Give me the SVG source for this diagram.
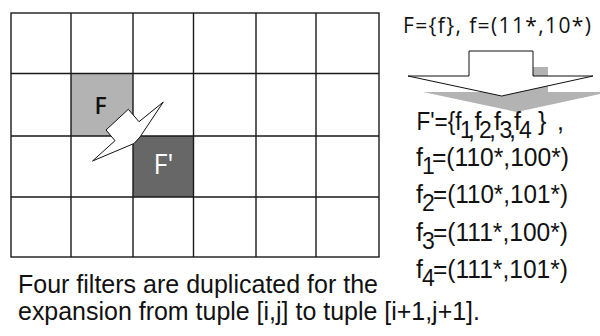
<svg xmlns="http://www.w3.org/2000/svg" width="600" height="336" viewBox="0 0 600 336">
<style>
.grid{stroke:#1a1a1a;stroke-width:1.4;fill:none}
.narrow{font-family:"Liberation Sans",Arial,sans-serif;font-size:25px;fill:#111}
.sub{font-size:23px}
.open{font-family:"Open Sans","DejaVu Sans",sans-serif;fill:#111}
</style>
<rect width="600" height="336" fill="#fff"/>
<g id="cellF"><rect x="71" y="73.5" width="62" height="62.5" fill="#b3b3b3"/></g>
<g id="cellF2"><rect x="133" y="136" width="60.5" height="61" fill="#676767"/></g>
<g id="grid" class="grid">
<rect x="11" y="13" width="368" height="244"/>
<path d="M71 13V257M133 13V257M193.5 13V257M256 13V257M316 13V257M11 73.5H379M11 136H379M11 197H379"/>
</g>
<g id="labelF"><text x="94.5" y="113.5" class="open" font-size="23" font-weight="600">F</text></g>
<g id="labelF2"><text x="153.5" y="174" class="open" font-size="27" style="fill:#fff">F'</text></g>
<g id="connectors">
<polygon points="163.3,102 139,121.7 128.3,109.3 106,130 115,140.7 92.5,161 134,143.5 140,137" fill="#fff" stroke="#111" stroke-width="1"/>
</g>
<g id="topText"><text x="403" y="33.3" class="open" font-size="21" textLength="188" lengthAdjust="spacing">F={f}, f=(11*,10*)</text></g>
<g id="bigArrow">
<polygon points="484,67 548,67 548,92 609,92 516.7,112 423,92 484,92" fill="#b3b3b3"/>
<polygon points="469,51 533,51 533,76 593,76 501.7,96 408,76 469,76" fill="#fff" stroke="#111" stroke-width="1"/>
</g>
<g id="filterSet" class="narrow">
<text y="130"><tspan x="416.5" textLength="45" lengthAdjust="spacingAndGlyphs">F'={f</tspan><tspan x="460" dy="8" class="sub">1</tspan><tspan x="468">,</tspan><tspan x="474.5" dy="-8">f</tspan><tspan x="479" dy="8" class="sub">2</tspan><tspan x="489">,</tspan><tspan x="494" dy="-8">f</tspan><tspan x="499.5" dy="8" class="sub">3</tspan><tspan x="509">,</tspan><tspan x="514" dy="-8">f</tspan><tspan x="519" dy="8" class="sub">4</tspan><tspan x="538" dy="-8">}</tspan><tspan x="557">,</tspan></text>
<text y="166"><tspan x="416">f</tspan><tspan x="422" dy="8" class="sub">1</tspan><tspan x="432" dy="-8" textLength="137" lengthAdjust="spacingAndGlyphs">=(110*,100*)</tspan></text>
<text y="203"><tspan x="416">f</tspan><tspan x="422" dy="8" class="sub">2</tspan><tspan x="433" dy="-8" textLength="135" lengthAdjust="spacingAndGlyphs">=(110*,101*)</tspan></text>
<text y="241"><tspan x="416">f</tspan><tspan x="422" dy="8" class="sub">3</tspan><tspan x="433" dy="-8" textLength="135" lengthAdjust="spacingAndGlyphs">=(111*,100*)</tspan></text>
<text y="278"><tspan x="416">f</tspan><tspan x="422" dy="8" class="sub">4</tspan><tspan x="433" dy="-8" textLength="135" lengthAdjust="spacingAndGlyphs">=(111*,101*)</tspan></text>
</g>
<g id="caption" class="narrow">
<text x="18" y="293.3" textLength="360" lengthAdjust="spacingAndGlyphs">Four filters are duplicated for the</text>
<text x="18" y="320" textLength="462" lengthAdjust="spacingAndGlyphs">expansion from tuple [i,j] to tuple [i+1,j+1].</text>
</g>
</svg>
